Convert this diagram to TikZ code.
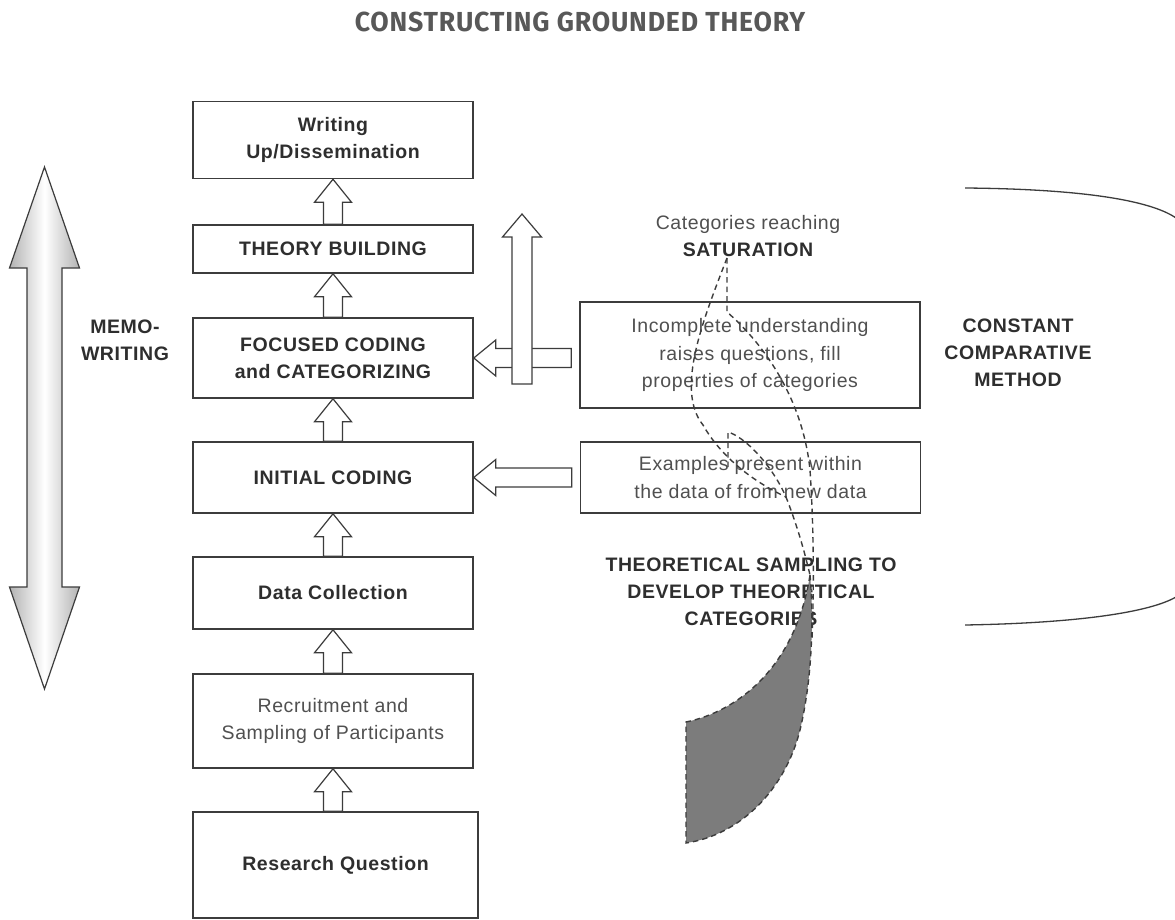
\documentclass[tikz,border=0pt]{standalone}
\usepackage{fontspec}
\setmainfont{Liberation Sans}[LetterSpace=3]
\newfontfamily\titlefont[FakeStretch=0.97,LetterSpace=3]{Fira Sans}
\usetikzlibrary{calc}
\definecolor{ink}{HTML}{3C3C3C}
\definecolor{txt}{HTML}{2E2E2E}
\definecolor{reg}{HTML}{505050}
\definecolor{ttl}{HTML}{585858}
\definecolor{blob}{HTML}{7C7C7C}
\newcommand\blkup[2]{\draw[blk] let \p1=(#1.north), \p2=(#2.south) in
  (\x2-9.5pt,\y1) -- (\x2-9.5pt,\y2-23pt) -- (\x2-18.5pt,\y2-23pt) -- (\x2,\y2)
  -- (\x2+18.5pt,\y2-23pt) -- (\x2+9.5pt,\y2-23pt) -- (\x2+9.5pt,\y1) -- cycle;}
\newcommand\blkleft[2]{\draw[blk] let \p1=(#1.west), \p2=(#2.east) in
  (\x1-8pt,\y2+9.5pt) -- (\x2+22pt,\y2+9.5pt) -- (\x2+22pt,\y2+18pt) -- (\x2,\y2)
  -- (\x2+22pt,\y2-18pt) -- (\x2+22pt,\y2-9.5pt) -- (\x1-8pt,\y2-9.5pt) -- cycle;}
\begin{document}
\begin{tikzpicture}[x=1pt,y=-1pt,
  box/.style={draw=ink, line width=1.5pt, fill=white, minimum width=280pt,
    inner sep=0pt, align=center, text=txt,
    font=\fontsize{19.5}{27}\selectfont\bfseries},
  rbox/.style={draw=ink, line width=1.5pt, fill=white, minimum width=340pt,
    inner sep=0pt, align=center, text=reg,
    font=\fontsize{19.5}{27.5}\selectfont},
  lbl/.style={align=center, text=txt, inner sep=0pt,
    font=\fontsize{19.5}{27}\selectfont\bfseries},
  blk/.style={draw=ink, line width=1.2pt, fill=white, line join=miter},
  dsh/.style={draw=ink, line width=1.4pt, dash pattern=on 5.5pt off 4pt},
  brk/.style={draw=ink, line width=1.3pt}]
\fill[white] (0,0) rectangle (1175,920);
\useasboundingbox (0,0) rectangle (1175,920);

% title
\node[text=ttl, font=\titlefont\bfseries\fontsize{27.5}{30}\selectfont] (title) at (580,22) {CONSTRUCTING GROUNDED THEORY};

% left column
\node[box, minimum height=77pt] (b1) at (333,140) {Writing\\Up/Dissemination};
\node[box, minimum height=48pt] (b2) at (333,249) {THEORY BUILDING};
\node[box, minimum height=80pt] (b3) at (333,358) {FOCUSED CODING\\and CATEGORIZING};
\node[box, minimum height=71pt] (b4) at (333,477.5) {INITIAL CODING};
\node[box, minimum height=72pt] (b5) at (333,593) {Data Collection};
\node[box, minimum height=94pt, font=\fontsize{19.5}{27}\selectfont, text=reg] (b6) at (333,721) {Recruitment and\\Sampling of Participants};
\node[box, minimum height=106pt, minimum width=285pt] (b7) at (335.5,865) {Research Question};

% right boxes
\node[rbox, minimum height=106pt] (r1) at (750,355) {Incomplete understanding\\raises questions, fill\\properties of categories};
\node[rbox, minimum height=71pt] (r2) at (750.5,477.5) {Examples present within\\the data of from new data};

% labels
\node[lbl] (memo) at (125,340) {MEMO-\\WRITING};
\node[lbl] (ccm) at (1018,353) {CONSTANT\\COMPARATIVE\\METHOD};
\node[align=center, inner sep=0pt, text=reg, font=\fontsize{19.5}{27}\selectfont] (sat) at (748,236) {Categories reaching\\{\bfseries\color{txt}SATURATION}};
\node[lbl] (ts) at (751,592) {THEORETICAL SAMPLING TO\\DEVELOP THEORETICAL\\CATEGORIES};

% block arrows between boxes
\blkup{b2}{b1}
\blkup{b3}{b2}
\blkup{b4}{b3}
\blkup{b5}{b4}
\blkup{b6}{b5}
\blkup{b7}{b6}

% arrows from right boxes
\blkleft{r1}{b3}
\blkleft{r2}{b4}

% big vertical arrow
\coordinate (vb) at (522,384);
\coordinate (vt) at (522,214);
\draw[blk] let \p1=(vb), \p2=(vt) in
  (\x1-10pt,\y1) -- (\x1-10pt,\y2-23pt) -- (\x1-19.5pt,\y2-23pt) -- (\x2,\y2)
  -- (\x1+19.5pt,\y2-23pt) -- (\x1+10pt,\y2-23pt) -- (\x1+10pt,\y1) -- cycle;

% memo-writing double arrow
\coordinate (mt) at (44.5,167);
\coordinate (mb) at (44.5,689);
\draw[draw=ink, line width=1.2pt, line join=miter, left color=black!30, right color=black!30, middle color=white]
  let \p1=(mt), \p2=(mb) in
  (\x1,\y1) -- (\x1+35pt,\y1-101pt) -- (\x1+17.5pt,\y1-101pt) -- (\x1+17.5pt,\y2+102pt)
  -- (\x1+35pt,\y2+102pt) -- (\x2,\y2) -- (\x1-35pt,\y2+102pt) -- (\x1-17.5pt,\y2+102pt)
  -- (\x1-17.5pt,\y1-101pt) -- (\x1-35pt,\y1-101pt) -- cycle;

% bracket of the constant comparative method
\coordinate (kt0) at (965,188);
\coordinate (kt1) at (1176,218);
\coordinate (kb0) at (965,625);
\coordinate (kb1) at (1176,597);
\draw[brk] (kt0) .. controls (1080,189) and (1150,200) .. (kt1);
\draw[brk] (kb0) .. controls (1080,623) and (1150,612) .. (kb1);

% twisted dashed ribbon from saturation to the grey blob
\coordinate (s0) at (727,258);
\coordinate (hk) at (728,432);
\coordinate (vv) at (786,497);
\coordinate (g0) at (810,575);
\draw[dsh] (s0) -- (727,312) .. controls (765,345) and (803,400) .. (810,470)
  .. controls (814,530) and (814,590) .. (812,640);
\draw[dsh] (s0) .. controls (703,320) and (675,390) .. (703,425)
  .. controls (720,455) and (750,480) .. (vv);
\draw[dsh] (728,467) -- (hk) .. controls (745,437) and (772,465) .. (vv)
  .. controls (795,520) and (803,545) .. (g0);
\draw[dsh, fill=blob] (g0) .. controls (814,620) and (812,680) .. (800,730)
  .. controls (785,790) and (740,835) .. (686,843) -- (686,722)
  .. controls (735,712) and (795,670) .. (g0) -- cycle;
\end{tikzpicture}
\end{document}
